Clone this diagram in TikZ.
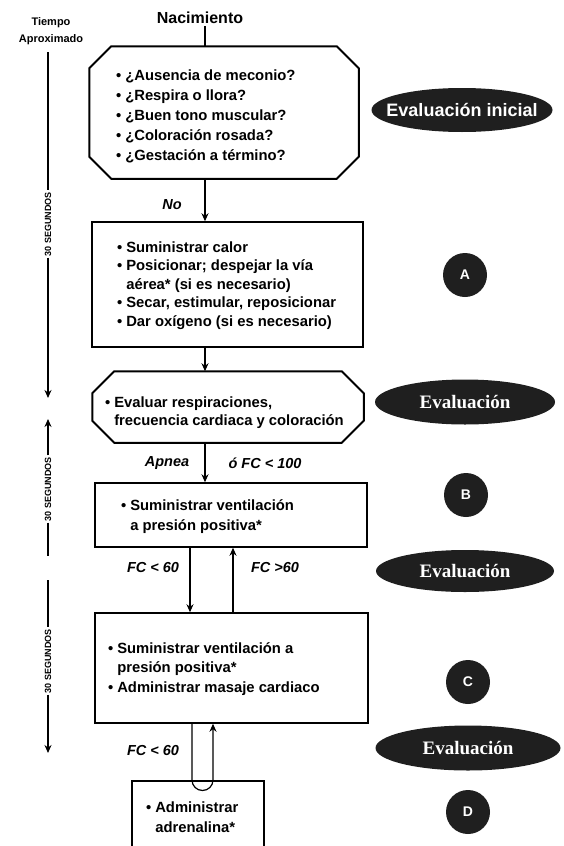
\documentclass[tikz,border=0pt]{standalone}
\usepackage{fontspec}
\setmainfont{Liberation Sans}
\newfontfamily\evalserif{Liberation Serif}
\usetikzlibrary{calc,shapes.geometric,arrows.meta}
\newlength{\du}
\setlength{\du}{1pt}
\definecolor{evalcolor}{rgb}{0.120000, 0.120000, 0.120000}
\tikzset{
  hiddenbox/.style={inner sep=0pt},
  framebox/.style={draw=black, inner sep=0pt},
  steptext/.style={anchor=base west, align=left, inner sep=0pt,
    font=\bfseries\fontsize{14.8}{#1}\selectfont},
  headtext/.style={font=\bfseries\fontsize{16}{18}\selectfont, inner sep=1pt},
  condlabel/.style={font=\bfseries\itshape\fontsize{14.5}{16}\selectfont, inner sep=1pt},
  flowarrow/.style={-{Stealth[length=8pt,width=7pt]}},
  evalblob/.style={ellipse, fill=evalcolor, text=white, inner sep=0pt},
  stepletter/.style={circle, fill=evalcolor, text=white, minimum size=44pt,
    inner sep=0pt, font=\bfseries\fontsize{14}{16}\selectfont},
  timehead/.style={align=center, inner sep=0pt, font=\bfseries\fontsize{11}{17}\selectfont},
  timelabel/.style={rotate=90, inner sep=1.5pt, font=\bfseries\fontsize{9}{10}\selectfont},
}

\begin{document}
\begin{tikzpicture}
\pgftransformxscale{1.000000}
\pgftransformyscale{-1.000000}
\useasboundingbox (0\du,0\du) rectangle (563\du,846\du);
% time column
\node[timehead] (tiempo) at (51\du,31\du) {Tiempo\\Aproximado};
\coordinate (t1top) at (48\du,52\du);
\coordinate (t1bot) at (48\du,398\du);
\coordinate (t2top) at (48\du,419\du);
\coordinate (t2bot) at (48\du,556\du);
\coordinate (t3top) at (48\du,580\du);
\coordinate (t3bot) at (48\du,753\du);
\node[timelabel] (t1) at (48\du,224\du) {30 SEGUNDOS};
\node[timelabel] (t2) at (48\du,489\du) {30 SEGUNDOS};
\node[timelabel] (t3) at (48\du,661\du) {30 SEGUNDOS};
\pgfsetlinewidth{1.500000\du}
\pgfsetbuttcap
{
\draw (t1top) -- (t1);
\draw[flowarrow] (t1) -- (t1bot);
\draw[flowarrow] (t2) -- (t2top);
\draw (t2) -- (t2bot);
\draw (t3top) -- (t3);
\draw[flowarrow] (t3) -- (t3bot);
}
% boxes
\node[hiddenbox, minimum width=268\du, minimum height=131\du] (b0) at (224\du,112.5\du) {};
\node[framebox, minimum width=271\du, minimum height=125\du] (b1) at (227.5\du,284.5\du) {};
\node[hiddenbox, minimum width=270\du, minimum height=70\du] (b2) at (228\du,407\du) {};
\node[framebox, minimum width=272\du, minimum height=64\du] (b3) at (231\du,515\du) {};
\node[framebox, minimum width=273\du, minimum height=110\du] (b4) at (231.5\du,668\du) {};
\node[framebox, minimum width=132\du, minimum height=70\du] (b5) at (198\du,816\du) {};
\pgfsetlinewidth{2.000000\du}
\pgfsetdash{}{0pt}
\pgfsetbuttcap
{
\draw[line join=miter] ($(b0.north west)+(22\du,0)$) -- ($(b0.north east)+(-22\du,0)$)
  -- ($(b0.north east)+(0,22\du)$) -- ($(b0.south east)+(0,-22\du)$)
  -- ($(b0.south east)+(-22\du,0)$) -- ($(b0.south west)+(22\du,0)$)
  -- ($(b0.south west)+(0,-22\du)$) -- ($(b0.north west)+(0,22\du)$) -- cycle;
\draw[line join=miter] ($(b2.north west)+(22\du,0)$) -- ($(b2.north east)+(-22\du,0)$)
  -- ($(b2.north east)+(0,22\du)$) -- ($(b2.south east)+(0,-22\du)$)
  -- ($(b2.south east)+(-22\du,0)$) -- ($(b2.south west)+(22\du,0)$)
  -- ($(b2.south west)+(0,-22\du)$) -- ($(b2.north west)+(0,22\du)$) -- cycle;
}
% box texts left to latex (base = last line)
\node[steptext=20] (q0) at (115\du,160\du) {\textbullet\ ¿Ausencia de meconio?\\
\textbullet\ ¿Respira o llora?\\
\textbullet\ ¿Buen tono muscular?\\
\textbullet\ ¿Coloración rosada?\\
\textbullet\ ¿Gestación a término?};
\node[steptext=18.5] (q1) at (116\du,326\du) {\textbullet\ Suministrar calor\\
\textbullet\ Posicionar; despejar la vía\\
\phantom{\textbullet\ }aérea* (si es necesario)\\
\textbullet\ Secar, estimular, reposicionar\\
\textbullet\ Dar oxígeno (si es necesario)};
\node[steptext=18.5] (q2) at (104\du,425.5\du) {\textbullet\ Evaluar respiraciones,\\
\phantom{\textbullet\ }frecuencia cardiaca y coloración};
\node[steptext=20] (q3) at (120\du,530\du) {\textbullet\ Suministrar ventilación\\
\phantom{\textbullet\ }a presión positiva*};
\node[steptext=19.5] (q4) at (107\du,692\du) {\textbullet\ Suministrar ventilación a\\
\phantom{\textbullet\ }presión positiva*\\
\textbullet\ Administrar masaje cardiaco};
\node[steptext=20] (q5) at (145\du,832\du) {\textbullet\ Administrar\\
\phantom{\textbullet\ }adrenalina*};
% right column
\node[evalblob, minimum width=181\du, minimum height=44\du,
  font=\bfseries\fontsize{18}{20}\selectfont] (e0) at (462\du,110\du) {\makebox[0pt]{Evaluación inicial}};
\node[evalblob, minimum width=180\du, minimum height=45\du,
  font=\evalserif\bfseries\fontsize{19}{21}\selectfont] (e1) at (465\du,402\du) {\makebox[0pt]{Evaluación}};
\node[evalblob, minimum width=178\du, minimum height=42\du,
  font=\evalserif\bfseries\fontsize{19}{21}\selectfont] (e2) at (465\du,571\du) {\makebox[0pt]{Evaluación}};
\node[evalblob, minimum width=185\du, minimum height=45\du,
  font=\evalserif\bfseries\fontsize{19}{21}\selectfont] (e3) at (468\du,748\du) {\makebox[0pt]{Evaluación}};
\node[stepletter] (sa) at (465\du,275\du) {A};
\node[stepletter] (sb) at (466\du,495\du) {B};
\node[stepletter] (sc) at (468\du,682\du) {C};
\node[stepletter] (sd) at (468\du,812\du) {D};
% connectors
\node[headtext] (birth) at (200\du,18\du) {Nacimiento};
\coordinate (spine) at (205\du,0\du);
\coordinate (down3) at (190\du,0\du);
\coordinate (up3) at (233\du,0\du);
\coordinate (loopa) at (192\du,780\du);
\coordinate (loopb) at (213\du,780\du);
\node[condlabel] (no) at (172\du,205\du) {No};
\node[condlabel] (apnea) at (167\du,463\du) {Apnea};
\node[condlabel] (fc100) at (265\du,463\du) {ó FC < 100};
\node[condlabel] (fclow) at (153\du,568\du) {FC < 60};
\node[condlabel] (fchigh) at (275\du,568\du) {FC >60};
\node[condlabel] (fcloop) at (153\du,750\du) {FC < 60};
\pgfsetlinewidth{1.200000\du}
\pgfsetdash{}{0pt}
\pgfsetbuttcap
{
\draw (birth.south -| spine) -- (b0.north -| spine);
\draw[flowarrow] (b0.south -| spine) -- (b1.north -| spine);
\draw[flowarrow] (b1.south -| spine) -- (b2.north -| spine);
\draw[flowarrow] (b2.south -| spine) -- (b3.north -| spine);
\draw[flowarrow] (b3.south -| down3) -- (b4.north -| down3);
\draw[flowarrow] (b4.north -| up3) -- (b3.south -| up3);
\draw[flowarrow] (b4.south -| loopa) -- (loopa)
  arc[start angle=180, end angle=0, radius=10.5\du] -- (b4.south -| loopb);
}
\end{tikzpicture}
\end{document}
